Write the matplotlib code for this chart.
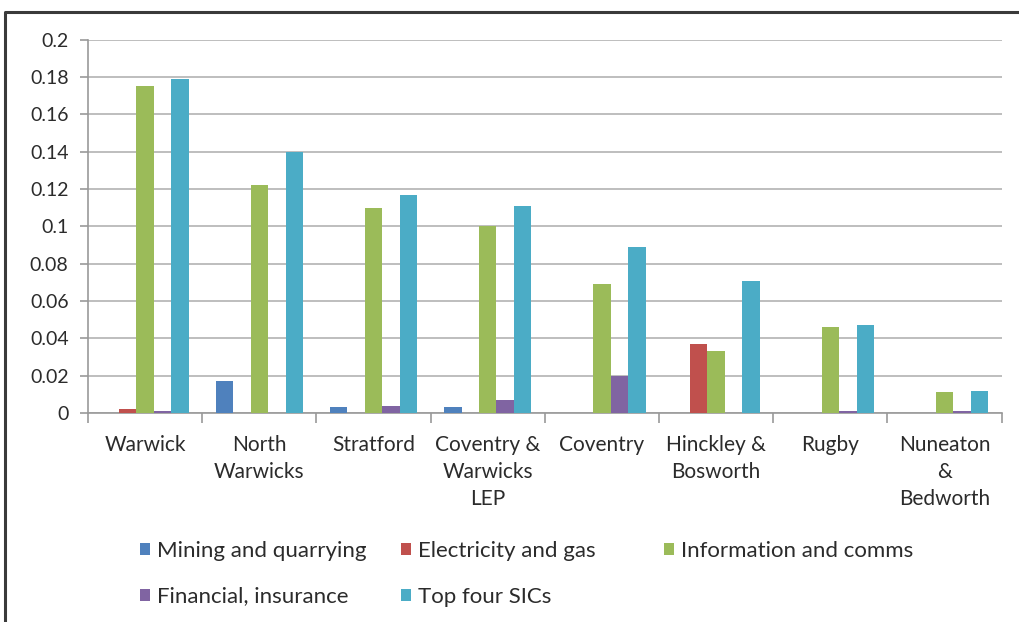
import matplotlib.pyplot as plt
import numpy as np
from matplotlib.lines import Line2D

areas = ["Warwick", "North\nWarwicks", "Stratford", "Coventry &\nWarwicks\nLEP",
         "Coventry", "Hinckley &\nBosworth", "Rugby", "Nuneaton\n&\nBedworth"]

mining = [0.0, 0.017, 0.003, 0.003, 0.0, 0.0, 0.0, 0.0]
electricity = [0.002, 0.0, 0.0, 0.0, 0.0, 0.037, 0.0, 0.0]
info_comms = [0.175, 0.122, 0.110, 0.100, 0.069, 0.033, 0.046, 0.011]
financial = [0.001, 0.0, 0.004, 0.007, 0.020, 0.0, 0.001, 0.001]
top_four = [0.179, 0.140, 0.117, 0.111, 0.089, 0.071, 0.047, 0.012]

series = [
    ("Mining and quarrying", mining, "#4F81BD"),
    ("Electricity and gas", electricity, "#C0504D"),
    ("Information and comms", info_comms, "#9BBB59"),
    ("Financial, insurance", financial, "#8064A2"),
    ("Top four SICs", top_four, "#4BACC6"),
]

plt.rcParams["font.family"] = ["Lato", "DejaVu Sans"]
text_col = "#2b2b2b"

fig = plt.figure(figsize=(10.19, 6.22), dpi=100)
ax = fig.add_axes([0.0864, 0.336, 0.8966, 0.6])

x = np.arange(len(areas))
width = 0.153
for i, (name, vals, col) in enumerate(series):
    ax.bar(x + (i - 2) * width, vals, width, color=col, label=name, zorder=3)

ax.set_xlim(-0.5, len(areas) - 0.5)
ax.set_ylim(0, 0.2)
yt = np.arange(0, 0.201, 0.02)
ax.set_yticks(yt)
ax.set_yticklabels([f"{v:g}" for v in np.round(yt, 2)])
ax.yaxis.grid(True, color="#b3b3b3", linewidth=1.2, zorder=0)

ax.set_xticks(x)
ax.set_xticklabels(areas, linespacing=1.42, va="top")
ax.set_xticks(np.arange(-0.5, len(areas), 1), minor=True)
ax.tick_params(axis="x", which="major", length=0, pad=16, labelsize=15, labelcolor=text_col)
ax.tick_params(axis="x", which="minor", length=7, color="#999999", width=1.2)
ax.tick_params(axis="y", length=6, color="#999999", width=1.2, labelsize=14,
               labelcolor=text_col, pad=8)

for side in ["top", "right"]:
    ax.spines[side].set_visible(False)
ax.spines["left"].set_color("#999999")
ax.spines["bottom"].set_color("#999999")
ax.spines["left"].set_linewidth(1.2)
ax.spines["bottom"].set_linewidth(1.2)

# legend laid out in equal-width columns, filled row by row
handles, labels = ax.get_legend_handles_labels()
columns = [[0, 3], [1, 4], [2]]
col_x = [140 / 1019, 401 / 1019, 664 / 1019]
for cx, idx in zip(col_x, columns):
    fig.legend([handles[k] for k in idx], [labels[k] for k in idx],
               loc="upper left", bbox_to_anchor=(cx, 1 - 541 / 622), frameon=False,
               fontsize=16, handlelength=0.45, handleheight=0.45, handletextpad=0.3,
               labelspacing=1.15, borderpad=0, borderaxespad=0, labelcolor=text_col)

# outer frame of the chart box
fig.add_artist(Line2D([5 / 1019, 5 / 1019, 1.0], [0.0, 1 - 12 / 622, 1 - 12 / 622],
                      transform=fig.transFigure, color="#3a3a3a", linewidth=2.2))

fig.savefig("out.png", dpi=100, facecolor="white")
